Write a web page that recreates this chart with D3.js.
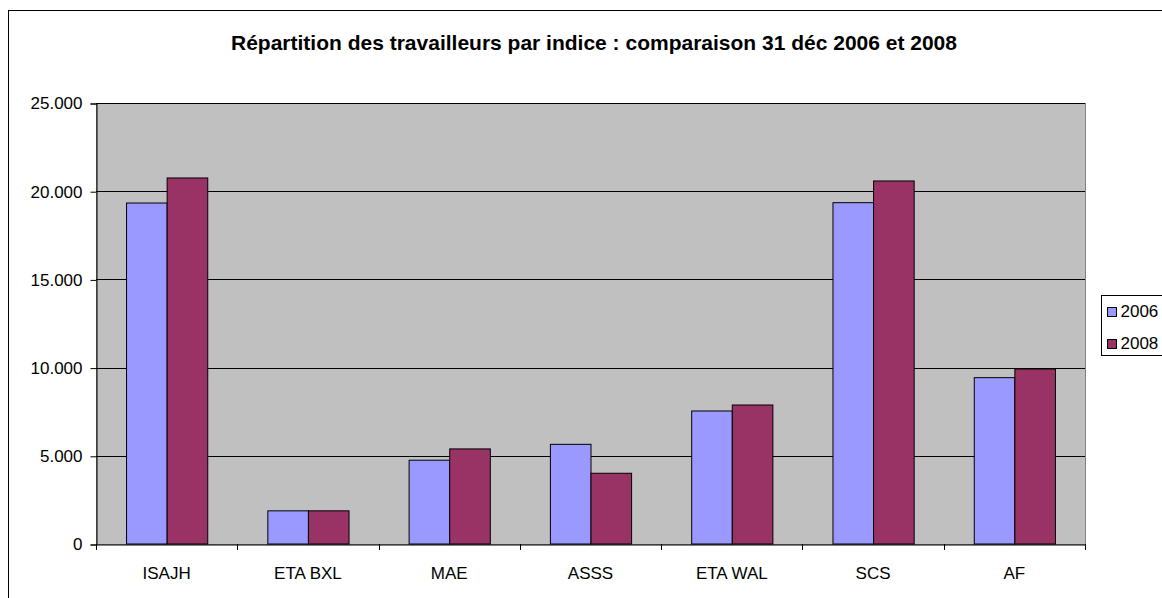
<!DOCTYPE html>
<html lang="fr">
<head>
  <meta charset="UTF-8">
  <title>Répartition des travailleurs par indice</title>
  <script src="https://d3js.org/d3.v7.min.js"></script>
  <style>
    body { margin: 0; background: #fff; }
    svg { display: block; font-family: "Liberation Sans", Arial, sans-serif; }
  </style>
</head>
<body>
  <svg width="1162" height="598"></svg>
  <script>
    const categories = ["ISAJH", "ETA BXL", "MAE", "ASSS", "ETA WAL", "SCS", "AF"];
    const series = ["2006", "2008"];
    const values2006 = [19330, 1880, 4750, 5650, 7540, 19350, 9430];
    const values2008 = [20750, 1880, 5390, 4010, 7880, 20580, 9920];
    const yTicks = [0, 5000, 10000, 15000, 20000, 25000];
    const colors = ["#9999ff", "#993366"];

    const data = categories.map((c, i) => ({cat: c, vals: [values2006[i], values2008[i]]}));

    const svg = d3.select("svg");
    const plot = {left: 96, top: 103, right: 1085, bottom: 544};
    const fontSize = 17;

    // cadre extérieur
    svg.append("rect")
      .attr("x", 8.5).attr("y", 10.5)
      .attr("width", 1200).attr("height", 600)
      .attr("fill", "#fff").attr("stroke", "#000");

    svg.append("text")
      .attr("x", 594).attr("y", 50)
      .attr("text-anchor", "middle")
      .attr("font-weight", "bold")
      .attr("font-size", 21)
      .text("Répartition des travailleurs par indice : comparaison 31 déc 2006 et 2008");

    const x = d3.scaleBand()
      .domain(categories)
      .range([plot.left, plot.right]);

    const xInner = d3.scaleBand()
      .domain(series)
      .range([0, x.bandwidth()])
      .paddingOuter(0.37 * 2);

    const y = d3.scaleLinear()
      .domain([0, 25000])
      .range([plot.bottom, plot.top]);

    svg.append("rect")
      .attr("x", plot.left + 0.5).attr("y", plot.top + 0.5)
      .attr("width", plot.right - plot.left).attr("height", plot.bottom - plot.top)
      .attr("fill", "#c0c0c0").attr("stroke", "#808080");

    // lignes de grille
    svg.append("g")
      .selectAll("line")
      .data(yTicks.filter(d => d > 0))
      .join("line")
      .attr("x1", plot.left).attr("x2", plot.right)
      .attr("y1", d => Math.round(y(d)) + 0.5).attr("y2", d => Math.round(y(d)) + 0.5)
      .attr("stroke", "#000");

    const fmt = d => d === 0 ? "0" : d3.format(",")(d).replace(/,/g, ".");

    const yAxis = svg.append("g")
      .attr("transform", `translate(${plot.left + 0.5},0.5)`)
      .call(d3.axisLeft(y).tickValues(yTicks).tickSize(6).tickPadding(8).tickFormat(fmt));
    yAxis.selectAll("text").attr("font-size", fontSize).attr("fill", "#000").attr("font-family", "Liberation Sans, Arial, sans-serif");
    yAxis.selectAll("line, path").attr("stroke", "#000");

    const groups = svg.append("g")
      .selectAll("g")
      .data(data)
      .join("g")
      .attr("transform", d => `translate(${x(d.cat)},0)`);

    groups.selectAll("rect")
      .data(d => d.vals.map((v, i) => ({s: series[i], v, i})))
      .join("rect")
      .attr("x", d => xInner(d.s) + 0.5)
      .attr("y", d => y(d.v))
      .attr("width", xInner.bandwidth())
      .attr("height", d => plot.bottom - y(d.v))
      .attr("fill", d => colors[d.i])
      .attr("stroke", "#000")
      .attr("stroke-width", 1);

    const xAxis = svg.append("g")
      .attr("transform", `translate(0,${plot.bottom + 0.5})`)
      .call(d3.axisBottom(x).tickSize(0).tickPadding(22));
    xAxis.select(".domain").attr("stroke", "#000");
    xAxis.selectAll("text").attr("font-size", fontSize).attr("fill", "#000").attr("font-family", "Liberation Sans, Arial, sans-serif");

    // graduations entre catégories
    svg.append("g")
      .selectAll("line")
      .data(d3.range(categories.length + 1))
      .join("line")
      .attr("x1", i => Math.round(plot.left + i * x.step()) + 0.5)
      .attr("x2", i => Math.round(plot.left + i * x.step()) + 0.5)
      .attr("y1", plot.bottom).attr("y2", plot.bottom + 6)
      .attr("stroke", "#000");

    // légende
    const legend = svg.append("g").attr("transform", "translate(1101.5,295.5)");
    legend.append("rect")
      .attr("width", 80).attr("height", 60)
      .attr("fill", "#fff").attr("stroke", "#000");
    series.forEach((s, i) => {
      legend.append("rect")
        .attr("x", 6).attr("y", 12 + i * 32)
        .attr("width", 9).attr("height", 9)
        .attr("fill", colors[i]).attr("stroke", "#000");
      legend.append("text")
        .attr("x", 19).attr("y", 21 + i * 32)
        .attr("font-size", fontSize)
        .text(s);
    });
  </script>
</body>
</html>
